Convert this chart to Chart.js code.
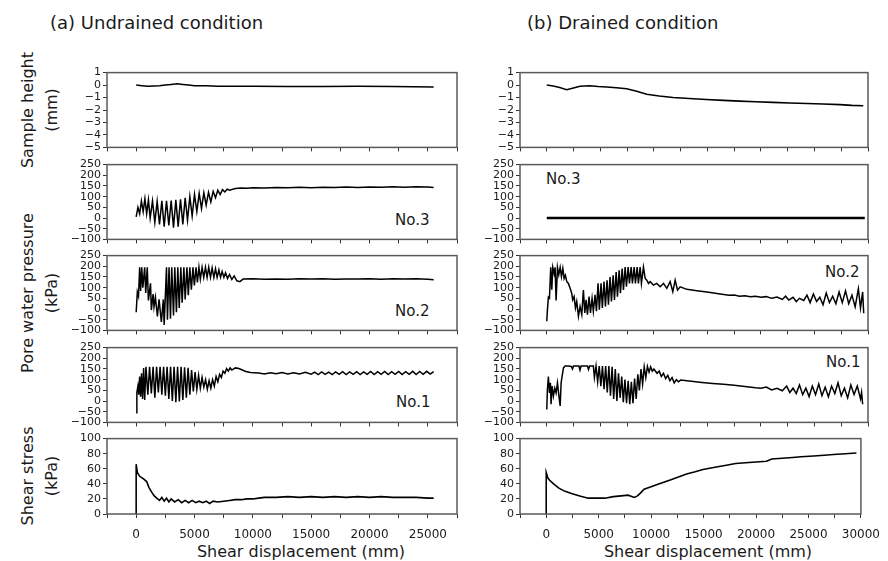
<!DOCTYPE html>
<html>
<head>
<meta charset="utf-8">
<script src="https://cdn.jsdelivr.net/npm/chart.js@4.4.0/dist/chart.umd.min.js"></script>
<style>
  body { margin: 0; width: 888px; height: 561px; position: relative; overflow: hidden; background: #fff;
         font-family: "DejaVu Sans", sans-serif; color: #1a1a1a; }
  .panel { position: absolute; }
  .txt { position: absolute; white-space: nowrap; line-height: 1; }
  .ytitle { position: absolute; white-space: nowrap; text-align: center; font-size: 16px; line-height: 24px;
            transform: translate(-50%, -50%) rotate(-90deg); }
</style>
</head>
<body>

<div class="txt" style="left:50px;top:14px;font-size:18px">(a) Undrained condition</div>
<div class="txt" style="left:527px;top:14px;font-size:18px">(b) Drained condition</div>

<div class="ytitle" style="left:40px;top:110px">Sample height<br>(mm)</div>
<div class="ytitle" style="left:40px;top:293px">Pore water pressure<br>(kPa)</div>
<div class="ytitle" style="left:40px;top:476px">Shear stress<br>(kPa)</div>

<div class="txt" style="left:395px;top:213px;font-size:15px">No.3</div>
<div class="txt" style="left:395px;top:304px;font-size:15px">No.2</div>
<div class="txt" style="left:396px;top:395px;font-size:15px">No.1</div>
<div class="txt" style="left:546px;top:172px;font-size:15px">No.3</div>
<div class="txt" style="left:825px;top:265px;font-size:15px">No.2</div>
<div class="txt" style="left:826px;top:355px;font-size:15px">No.1</div>

<div class="txt" style="left:301px;top:544px;font-size:16px;transform:translateX(-50%)">Shear displacement (mm)</div>
<div class="txt" style="left:708px;top:544px;font-size:16px;transform:translateX(-50%)">Shear displacement (mm)</div>

<script>
// tick positions
const X_TICKS_U = [-2500, 0, 2500, 5000, 7500, 10000, 12500, 15000, 17500, 20000, 22500, 25000, 27500];
const X_TICKS_D = [-2500, 0, 2500, 5000, 7500, 10000, 12500, 15000, 17500, 20000, 22500, 25000, 27500, 30000];
const X_LABELS = [0, 5000, 10000, 15000, 20000, 25000, 30000];
const HEIGHT_TICKS = [-5, -4, -3, -2, -1, 0, 1];
const PWP_TICKS = [-100, -50, 0, 50, 100, 150, 200, 250];
const SHEAR_TICKS = [0, 20, 40, 60, 80, 100];

// (a) undrained: [shear displacement mm, value]
const uHeight = [[0,0],[500,-0.05],[1000,-0.1],[1500,-0.08],[2000,-0.05],[2500,0],[3000,0.05],[3500,0.1],
  [4000,0.05],[4500,0],[5000,-0.05],[6000,-0.05],[7000,-0.1],[8000,-0.1],[10000,-0.1],[13000,-0.12],
  [16000,-0.12],[19000,-0.1],[22000,-0.12],[25500,-0.15]];

const uNo3 = [[0,5],[150,50],[300,20],[450,80],[600,30],[750,90],[900,20],[1050,85],[1200,0],[1400,80],
  [1600,-20],[1800,78],[2000,-30],[2200,80],[2400,-40],[2600,80],[2800,-35],[3000,82],[3200,-45],[3400,85],
  [3600,-40],[3800,88],[4000,-30],[4200,95],[4400,-10],[4600,100],[4800,10],[5000,110],[5200,30],[5400,115],
  [5600,45],[5800,118],[6000,60],[6200,120],[6400,75],[6600,125],[6800,95],[7000,130],[7200,110],[7400,133],
  [7600,122],[7800,135],[8000,130],[8500,138],[9000,140],[9500,139],[10000,142],[11000,141],[12000,143],
  [13000,142],[14000,144],[15000,142],[16000,144],[17000,143],[18000,145],[19000,143],[20000,145],
  [21000,144],[22000,146],[23000,144],[24000,146],[25000,145],[25500,143]];

const uNo2 = [[0,-15],[100,80],[200,60],[300,195],[380,85],[480,195],[570,100],[730,195],[820,75],[950,195],
  [1050,40],[1230,120],[1300,-5],[1450,70],[1530,10],[1650,55],[1820,-35],[1960,45],[2160,-60],[2330,45],
  [2400,-75],[2600,195],[2680,-50],[2820,195],[2940,-45],[3050,195],[3200,-30],[3310,195],[3450,-15],
  [3570,195],[3690,5],[3830,195],[3940,30],[4090,195],[4200,45],[4350,195],[4470,65],[4600,195],[4730,90],
  [4870,195],[4990,110],[5130,195],[5250,125],[5380,195],[5500,140],[5650,195],[5790,148],[5940,195],
  [6080,148],[6220,195],[6370,148],[6510,192],[6660,148],[6800,188],[6940,148],[7090,183],[7230,148],
  [7370,176],[7520,148],[7660,170],[7830,143],[8000,162],[8200,138],[8400,155],[8630,132],[8890,128],
  [9170,140],[10000,142],[11000,139],[12000,141],[13000,139],[14000,142],[15000,140],[16000,142],
  [17000,139],[18000,141],[19000,140],[20000,142],[21000,139],[22000,142],[23000,140],[24000,142],
  [25000,139],[25500,137]];

const uNo1 = [[0,-55],[60,40],[150,70],[220,30],[300,115],[380,20],[460,130],[550,10],[640,155],[730,5],
  [840,160],[1000,30],[1150,160],[1300,35],[1450,160],[1600,15],[1750,160],[1900,40],[2050,160],[2200,30],
  [2350,160],[2500,25],[2650,160],[2800,10],[2950,160],[3100,0],[3250,160],[3400,-5],[3550,160],[3700,-2],
  [3850,160],[4000,5],[4150,158],[4300,15],[4450,155],[4600,30],[4750,145],[4900,45],[5050,135],[5200,55],
  [5350,120],[5500,60],[5650,110],[5800,65],[5950,100],[6100,55],[6250,95],[6400,60],[6550,100],[6700,70],
  [6850,115],[7000,90],[7150,125],[7300,110],[7450,140],[7600,130],[7750,152],[7900,140],[8050,155],
  [8200,145],[8500,155],[8800,152],[9100,145],[9400,138],[9800,133],[10500,131],[11000,127],[11500,132],
  [12000,128],[12500,133],[13000,127],[13500,132],[14000,127],[14500,134],[15000,126],[15300,135],
  [15600,124],[15900,136],[16200,125],[16500,135],[16800,124],[17100,136],[17400,125],[17700,137],
  [18000,124],[18300,136],[18600,125],[18900,137],[19200,124],[19500,136],[19800,125],[20100,138],
  [20400,124],[20700,137],[21000,125],[21300,138],[21600,124],[21900,137],[22200,125],[22500,138],
  [22800,124],[23100,137],[23400,125],[23700,139],[24000,124],[24300,138],[24600,125],[24900,139],
  [25200,126],[25500,138]];

const uShear = [[0,0],[0,66],[100,55],[300,50],[600,47],[900,43],[1100,35],[1330,29],[1550,24],[1760,21],
  [2000,18],[2200,22],[2400,17],[2600,21],[2800,16],[3000,20],[3300,16],[3600,19],[3900,15],[4200,18],
  [4500,15],[4800,18],[5100,15],[5400,17],[5700,15],[6000,17],[6300,14],[6600,17],[7000,16],[7500,17],
  [8000,18],[8500,19],[9000,19],[9500,20],[10000,20],[10500,21],[11000,22],[12000,22],[13000,23],
  [14000,22],[15000,23],[16000,22],[17000,23],[18000,22],[19000,23],[20000,22],[21000,23],[22000,22],
  [23000,22],[24000,22],[25000,21],[25500,21]];

// (b) drained
const dHeight = [[0,0],[600,-0.08],[1200,-0.2],[1860,-0.37],[2400,-0.25],[3100,-0.1],[4000,-0.05],
  [4800,-0.12],[5600,-0.16],[6500,-0.22],[7460,-0.3],[8400,-0.5],[9330,-0.74],[10500,-0.88],[11800,-1.0],
  [13300,-1.08],[14900,-1.16],[16500,-1.23],[18000,-1.29],[19500,-1.34],[21100,-1.39],[22700,-1.44],
  [24300,-1.48],[25800,-1.52],[27400,-1.57],[28500,-1.63],[29560,-1.66]];

const dNo3 = [[0,0],[5000,0],[10000,0],[15000,0],[20000,0],[25000,0],[29700,0]];

const dNo2 = [[0,-57],[60,-5],[150,55],[250,50],[370,195],[470,90],[560,195],[690,165],[780,195],[870,40],
  [1000,195],[1120,160],[1250,195],[1370,152],[1500,190],[1620,143],[1740,158],[1870,128],[2020,120],
  [2180,97],[2330,74],[2420,43],[2550,58],[2680,5],[2800,35],[2960,-34],[3110,12],[3270,-26],[3420,89],
  [3550,-18],[3670,43],[3800,-26],[3950,58],[4080,-18],[4230,50],[4350,-10],[4510,66],[4640,-10],
  [4790,120],[4910,-3],[5070,120],[5190,5],[5350,128],[5480,12],[5630,135],[5760,20],[5910,150],[6040,35],
  [6200,158],[6320,43],[6480,173],[6600,58],[6760,181],[6880,74],[7040,189],[7160,89],[7320,196],
  [7440,104],[7600,196],[7720,120],[7880,196],[8000,120],[8160,196],[8280,120],[8440,196],[8560,120],
  [8720,196],[8840,120],[9030,196],[9190,143],[9340,135],[9500,120],[9650,128],[9960,112],[10270,120],
  [10590,104],[10900,120],[11210,97],[11520,128],[11770,81],[11990,135],[12210,89],[12460,104],
  [13080,92],[14020,86],[14960,80],[16200,70],[17000,64],[17500,66],[18000,60],[18500,62],[19000,57],
  [19500,60],[20000,55],[20500,58],[21000,50],[21500,56],[22000,45],[22300,60],[22600,42],[23000,55],
  [23300,35],[23600,50],[24000,40],[24300,65],[24600,30],[24900,70],[25200,35],[25500,55],[25800,20],
  [26100,75],[26400,30],[26700,60],[27000,25],[27300,80],[27600,30],[27900,85],[28200,25],[28500,65],
  [28800,10],[29100,95],[29300,5],[29500,80],[29600,-20]];

const dNo1 = [[0,-40],[60,55],[150,115],[250,38],[340,85],[400,-15],[500,70],[620,23],[750,60],[870,38],
  [1000,85],[1120,30],[1250,-23],[1340,85],[1430,115],[1560,155],[1710,164],[2000,164],[2300,162],
  [2400,150],[2500,164],[3000,164],[3100,145],[3200,164],[3800,164],[3900,148],[4000,164],[4350,164],
  [4450,110],[4600,164],[4750,90],[4900,164],[5050,70],[5200,164],[5350,55],[5500,164],[5650,40],
  [5800,164],[5950,25],[6100,160],[6250,10],[6400,150],[6550,0],[6700,130],[6850,15],[7000,115],
  [7150,-5],[7300,100],[7450,-10],[7600,95],[7750,-15],[7900,90],[8050,-10],[8200,105],[8350,10],
  [8500,125],[8650,50],[8800,150],[8950,80],[9100,160],[9250,110],[9400,162],[9550,135],[9700,160],
  [9850,140],[10000,150],[10300,130],[10500,140],[10700,115],[10900,130],[11100,105],[11300,120],
  [11500,95],[11700,110],[11900,85],[12100,100],[12300,90],[12500,98],[13500,92],[14500,87],[15500,82],
  [16500,78],[17500,74],[18500,68],[19500,62],[20000,60],[20500,65],[21000,52],[21500,60],[22000,48],
  [22400,70],[22700,40],[23000,60],[23300,35],[23600,75],[23900,30],[24200,60],[24500,20],[24800,70],
  [25100,30],[25400,80],[25700,25],[26000,65],[26300,20],[26600,70],[26900,35],[27200,85],[27500,25],
  [27800,60],[28100,15],[28400,75],[28700,30],[29000,70],[29300,10],[29400,40],[29500,-15]];

const dShear = [[0,0],[0,55],[150,48],[300,45],[700,40],[1240,34],[1800,30],[2480,27],[3200,24],[4000,21],
  [4800,21],[5600,21],[6400,23],[7150,24],[7800,25],[8400,22],[8700,24],[9000,28],[9330,33],[10000,36],
  [10580,39],[11200,42],[11820,45],[12600,49],[13380,53],[14200,56],[14940,59],[15700,61],[16490,63],
  [17300,65],[18050,67],[19000,68],[20000,69],[21000,70],[21500,73],[22500,74],[23500,75],[24280,76],
  [25500,77],[26500,78],[27390,79],[28500,80],[29570,81]];

// layout of the 5 x 2 grid of plot areas
const COLS = [
  { left: 107, width: 350, min: -2500, max: 27500, ticks: X_TICKS_U },
  { left: 520, width: 348, min: -2500, max: 30000, ticks: X_TICKS_D }
];
const ROW_TOP = [72, 164, 255, 347, 438];
const PLOT_H = 76;
const Y_W = 45, PAD_T = 8, PAD_R = 22;

Chart.defaults.font.family = "'DejaVu Sans', sans-serif";
Chart.defaults.color = "#1a1a1a";

function fmt(v) {
  return v < 0 ? "\u2212" + Math.abs(v) : String(v);
}

const framePlugin = {
  id: "frame",
  afterDatasetsDraw(chart) {
    const a = chart.chartArea, ctx = chart.ctx;
    ctx.save();
    ctx.strokeStyle = "#5a5a5a";
    ctx.lineWidth = 1.5;
    ctx.strokeRect(a.left, a.top, a.right - a.left, a.bottom - a.top);
    ctx.restore();
  }
};

function makePanel(col, row, points, yTicks, lineW) {
  const c = COLS[col];
  const bottomRow = row === 4;
  const xH = bottomRow ? 34 : 8;
  const w = Y_W + c.width + PAD_R;
  const h = PAD_T + PLOT_H + xH;

  const box = document.createElement("div");
  box.className = "panel";
  box.style.left = (c.left - Y_W) + "px";
  box.style.top = (ROW_TOP[row] - PAD_T) + "px";
  const cv = document.createElement("canvas");
  cv.width = w; cv.height = h;
  cv.style.width = w + "px"; cv.style.height = h + "px";
  box.appendChild(cv);
  document.body.appendChild(box);

  new Chart(cv, {
    type: "line",
    data: {
      datasets: [{
        data: points,
        borderColor: "#000",
        borderWidth: lineW,
        pointRadius: 0,
        tension: 0,
        fill: false
      }]
    },
    options: {
      responsive: false,
      animation: false,
      layout: { padding: { top: PAD_T, right: PAD_R, left: 0, bottom: 0 } },
      plugins: { legend: { display: false }, tooltip: { enabled: false } },
      scales: {
        x: {
          type: "linear",
          min: c.min, max: c.max,
          afterBuildTicks: s => { s.ticks = c.ticks.map(v => ({ value: v })); },
          afterFit: s => { s.height = xH; },
          border: { display: false },
          grid: { drawOnChartArea: false, drawTicks: true, tickLength: 4, color: "#333" },
          ticks: {
            display: bottomRow, autoSkip: false, maxRotation: 0, padding: 10,
            font: { size: 12 },
            callback: v => X_LABELS.includes(v) ? String(v) : ""
          }
        },
        y: {
          min: yTicks[0], max: yTicks[yTicks.length - 1],
          afterBuildTicks: s => { s.ticks = yTicks.map(v => ({ value: v })); },
          afterFit: s => { s.width = Y_W; },
          border: { display: false },
          grid: { drawOnChartArea: false, drawTicks: true, tickLength: 4, color: "#333" },
          ticks: { autoSkip: false, padding: 2, font: { size: 11 }, callback: v => fmt(v) }
        }
      }
    },
    plugins: [framePlugin]
  });
}

makePanel(0, 0, uHeight, HEIGHT_TICKS, 1.6);
makePanel(0, 1, uNo3, PWP_TICKS, 1.5);
makePanel(0, 2, uNo2, PWP_TICKS, 1.5);
makePanel(0, 3, uNo1, PWP_TICKS, 1.5);
makePanel(0, 4, uShear, SHEAR_TICKS, 1.6);

makePanel(1, 0, dHeight, HEIGHT_TICKS, 1.6);
makePanel(1, 1, dNo3, PWP_TICKS, 2.4);
makePanel(1, 2, dNo2, PWP_TICKS, 1.5);
makePanel(1, 3, dNo1, PWP_TICKS, 1.5);
makePanel(1, 4, dShear, SHEAR_TICKS, 1.6);
</script>
</body>
</html>
